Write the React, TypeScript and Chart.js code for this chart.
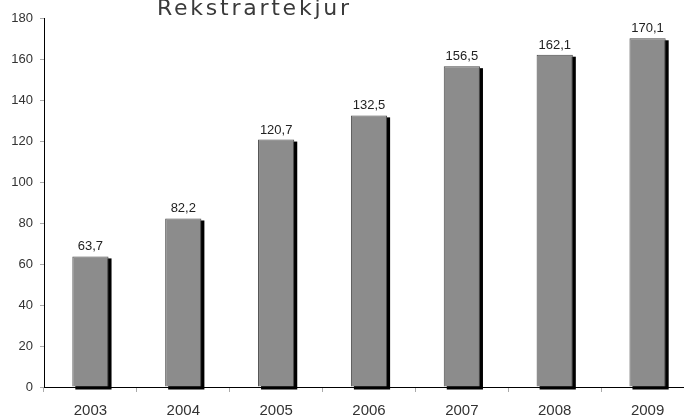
import React, { useEffect, useRef } from "react";
import { Chart, registerables } from "chart.js";

Chart.register(...registerables);

const categories = ["2003", "2004", "2005", "2006", "2007", "2008", "2009"];
const revenue = [63.7, 82.2, 120.7, 132.5, 156.5, 162.1, 170.1];
const yTicks = [0, 20, 40, 60, 80, 100, 120, 140, 160, 180];
const titleText = "Rekstrartekjur";

const FONT = "'Liberation Sans', Arial, sans-serif";
const TITLE_FONT = "'DejaVu Sans', 'Liberation Sans', sans-serif";

const shadowPlugin = {
  id: "barShadow",
  beforeDatasetsDraw(chart: any) {
    const ctx = chart.ctx;
    const meta = chart.getDatasetMeta(0);
    ctx.save();
    ctx.fillStyle = "#000";
    meta.data.forEach((el: any) => {
      const p = el.getProps(["x", "y", "base", "width"], true);
      const left = p.x - p.width / 2;
      ctx.fillRect(left + 3, p.y + 2, p.width, p.base - p.y + 1);
    });
    ctx.restore();
  },
};

const labelPlugin = {
  id: "valueLabels",
  afterDatasetsDraw(chart: any) {
    const ctx = chart.ctx;
    const meta = chart.getDatasetMeta(0);
    const data = chart.data.datasets[0].data as number[];
    ctx.save();
    ctx.fillStyle = "#222";
    ctx.font = `13px ${FONT}`;
    ctx.textAlign = "center";
    ctx.textBaseline = "alphabetic";
    meta.data.forEach((el: any, i: number) => {
      const p = el.getProps(["x", "y"], true);
      ctx.fillText(data[i].toFixed(1).replace(".", ","), p.x, p.y - 6);
    });
    ctx.restore();
  },
};

const titlePlugin = {
  id: "cutTitle",
  afterDraw(chart: any) {
    const ctx = chart.ctx;
    ctx.save();
    ctx.fillStyle = "#3a3a3a";
    ctx.font = `22px ${TITLE_FONT}`;
    ctx.textBaseline = "alphabetic";
    ctx.textAlign = "left";
    const plain = ctx.measureText(titleText).width;
    const target = 192;
    const spacing = Math.max(0, (target - plain) / (titleText.length - 1));
    (ctx as any).letterSpacing = `${spacing}px`;
    ctx.fillText(titleText, 157, 15);
    ctx.restore();
  },
};

export default function App() {
  const ref = useRef<HTMLCanvasElement | null>(null);

  useEffect(() => {
    document.body.style.margin = "0";
    document.body.style.overflow = "hidden";
    document.documentElement.style.overflow = "hidden";
    if (!ref.current) return;
    const chart = new Chart(ref.current, {
      type: "bar",
      data: {
        labels: categories,
        datasets: [
          {
            data: revenue,
            backgroundColor: "#8c8c8c",
            borderColor: "#4a4a4a",
            borderWidth: 1,
            categoryPercentage: 1,
            barPercentage: 0.39,
          },
        ],
      },
      options: {
        animation: false,
        responsive: false,
        maintainAspectRatio: false,
        layout: { padding: { top: 18, right: 0, left: 0, bottom: 0 } },
        plugins: {
          legend: { display: false },
          title: { display: false },
          tooltip: { enabled: false },
        },
        scales: {
          x: {
            type: "category",
            offset: true,
            grid: {
              display: true,
              drawOnChartArea: false,
              drawTicks: true,
              tickLength: 5,
              color: "#aaa",
              offset: true,
            },
            border: { display: true, color: "#000", width: 1 },
            ticks: {
              color: "#333",
              font: { size: 15, family: FONT },
              padding: 10,
              maxRotation: 0,
            },
            afterFit(scale: any) {
              scale.height = 30;
            },
          },
          y: {
            min: 0,
            max: 180,
            afterBuildTicks(scale: any) {
              scale.ticks = yTicks.map((v) => ({ value: v }));
            },
            grid: {
              display: true,
              drawOnChartArea: false,
              drawTicks: true,
              tickLength: 4,
              color: "#aaa",
            },
            border: { display: true, color: "#000", width: 1 },
            ticks: {
              color: "#333",
              font: { size: 13, family: FONT },
              padding: 7,
            },
            afterFit(scale: any) {
              scale.width = 44;
            },
          },
        },
      },
      plugins: [shadowPlugin, labelPlugin, titlePlugin],
    });
    return () => chart.destroy();
  }, []);

  return (
    <div style={{ width: 694, height: 417 }}>
      <canvas ref={ref} width={694} height={417} style={{ display: "block" }} />
    </div>
  );
}
